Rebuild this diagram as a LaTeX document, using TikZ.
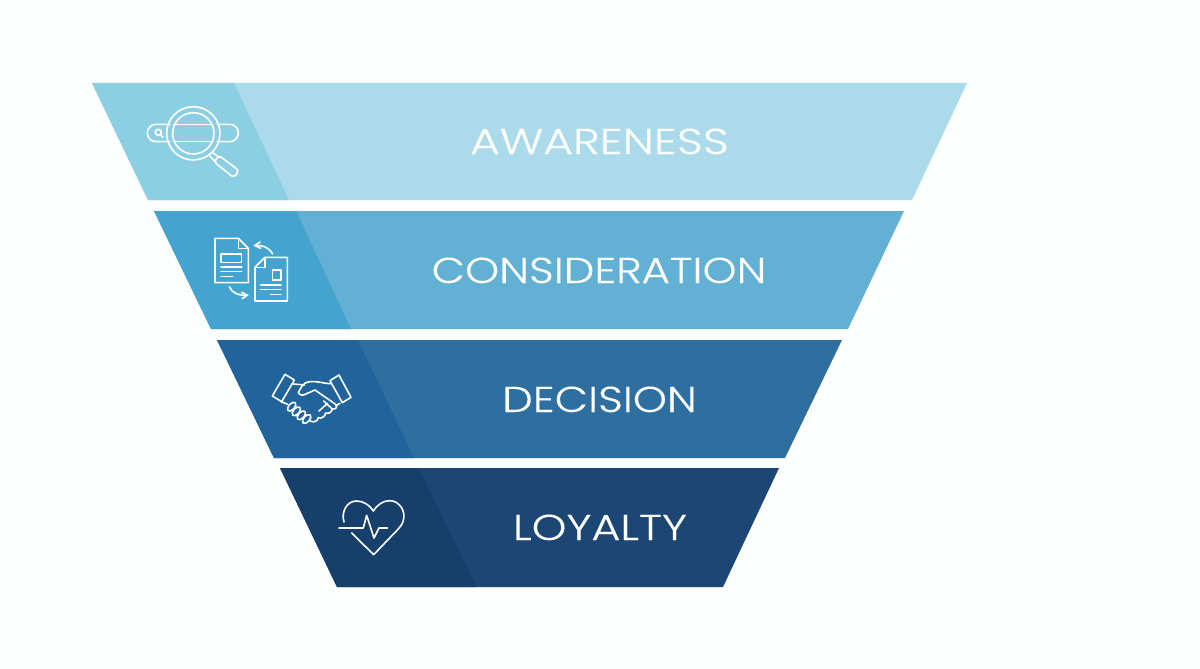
\documentclass[tikz,border=0pt]{standalone}
\usepackage{fontspec}
\setmainfont{Poppins}
\newfontfamily\bandfont[FakeStretch=1.205,FakeBold=0.25]{Poppins Light}
\newfontfamily\bandfontwide[FakeStretch=1.265,FakeBold=0.25]{Poppins Light}
\newfontfamily\bandfontmid[FakeStretch=1.23,FakeBold=0.25]{Poppins Light}
\usetikzlibrary{arrows}

\definecolor{pagebg}{HTML}{FDFEFE}
\definecolor{awareL}{HTML}{8CCFE2}
\definecolor{awareR}{HTML}{ABDBEA}
\definecolor{considerL}{HTML}{45A4CF}
\definecolor{considerR}{HTML}{62B0D3}
\definecolor{decideL}{HTML}{20649B}
\definecolor{decideR}{HTML}{2F6F9F}
\definecolor{loyalL}{HTML}{173F6C}
\definecolor{loyalR}{HTML}{1C4674}

\tikzset{
  bandlabel/.style={anchor=base, text=white, font=\bandfont\fontsize{36}{36}\selectfont, inner sep=0pt},
  iconline/.style={draw=white, line width=1.6pt, line cap=round, line join=round},
  iconarrow/.style={iconline, ->, >=angle 60},
  zoomed/.style={x=0.3333pt, y=-0.3333pt}
}

\begin{document}
\begin{tikzpicture}[x=1pt, y=-1pt]
\useasboundingbox (0,0) rectangle (1200,669);
\fill[pagebg] (0,0) rectangle (1200,669);

% bands
\fill[awareR] (92,83) -- (967,83) -- (912,200) -- (148,200) -- cycle;
\fill[awareL] (92,83) -- (234,83) -- (289,200) -- (148,200) -- cycle;
\fill[considerR] (154,211) -- (904,211) -- (848,329) -- (211,329) -- cycle;
\fill[considerL] (154,211) -- (296,211) -- (351,329) -- (211,329) -- cycle;
\fill[decideR] (217,340) -- (842,340) -- (785,458) -- (274,458) -- cycle;
\fill[decideL] (217,340) -- (358,340) -- (414,458) -- (274,458) -- cycle;
\fill[loyalR] (280,468) -- (779,468) -- (723,587) -- (337,587) -- cycle;
\fill[loyalL] (280,468) -- (419,468) -- (476,587) -- (337,587) -- cycle;

% labels
\node[bandlabel, font=\bandfontwide\fontsize{36}{36}\selectfont] (awareness) at (599.5,154) {AWARENESS};
\node[bandlabel] (consideration) at (599,283) {CONSIDERATION};
\node[bandlabel] (decision) at (599.5,412) {DECISION};
\node[bandlabel, font=\bandfontmid\fontsize{36}{36}\selectfont] (loyalty) at (600,540) {LOYALTY};

% search icon
\begin{scope}[shift={(90,80)}, zoomed]
\draw[iconline] (240,133) -- (198,133) arc (270:90:26) -- (240,185);
\draw[iconline] (381,133) -- (419,133) arc (270:450:26) -- (381,185);
\draw[iconline] (310,160) circle (80);
\draw[iconline] (310,160) circle (62);
\draw[iconline] (252,133) -- (368,133);
\draw[iconline] (252,185) -- (368,185);
\draw[iconline] (205,157) circle (9);
\draw[iconline] (212,164) -- (219,172);
\draw[iconline] (360,228) -- (375,245);
\draw[iconline] (368,218) -- (388,232);
\draw[iconline, rounded corners=3pt] (372,245) -- (388,227) -- (447,272) -- (431,293) -- cycle;
\end{scope}

% documents icon
\begin{scope}[shift={(150,205)}, zoomed]
\draw[iconline] (265,100) -- (195,100) -- (195,233) -- (295,233) -- (295,130) -- cycle;
\draw[iconline] (265,100) -- (265,130) -- (295,130);
\draw[iconline] (213,147) rectangle (275,172);
\draw[iconline] (213,186) -- (275,186);
\draw[iconline] (213,200) -- (275,200);
\draw[iconline] (213,214) -- (248,214);
\draw[iconline] (345,157) -- (412,157) -- (412,288) -- (315,288) -- (315,187) -- cycle;
\draw[iconline] (345,157) -- (345,187) -- (315,187);
\draw[iconline] (367,195) rectangle (393,225);
\draw[iconline] (332,240) -- (393,240);
\draw[iconline] (332,253) -- (393,253);
\draw[iconline] (362,268) -- (393,268);
\draw[iconarrow] (368,147) .. controls (356,125) and (335,120) .. (310,122);
\draw[iconarrow] (238,245) .. controls (245,265) and (268,272) .. (297,270);
\end{scope}

% handshake icon
\begin{scope}[shift={(215,335)}, zoomed]
\draw[iconline] (210,118) -- (238,135) -- (200,200) -- (172,183) -- cycle;
\draw[iconline] (372,120) -- (345,137) -- (382,203) -- (408,187) -- cycle;
\draw[iconline] (235,147) -- (268,150);
\draw[iconline] (349,146) .. controls (325,146) and (305,137) .. (285,140) .. controls (272,142) and (265,146) .. (260,155) -- (250,172) .. controls (254,183) and (266,182) .. (275,176) -- (300,165) -- (362,208) .. controls (370,215) and (362,224) .. (352,222);
\draw[iconline] (375,205) -- (362,212);
\draw[iconline] (352,222) .. controls (350,232) and (340,238) .. (332,234);
\draw[iconline] (332,234) .. controls (330,246) and (318,252) .. (310,248);
\draw[iconline] (310,248) .. controls (308,258) and (298,264) .. (285,258);
\draw[iconline] (338,205) -- (312,228);
\draw[iconline] (352,222) -- (326,198);
\draw[iconline] (198,200) -- (218,208);
\foreach \fx/\fy in {230/215, 244/229, 259/241, 275/252}
  \draw[iconline, rotate around={48:(\fx,\fy)}] (\fx,\fy) ellipse (16 and 9);
\end{scope}

% heart icon
\begin{scope}[shift={(275,462)}, zoomed]
\draw[iconline] (207,180) .. controls (198,150) and (215,117) .. (245,117) .. controls (265,117) and (285,130) .. (295,147) .. controls (305,130) and (325,115) .. (345,116) .. controls (375,117) and (393,150) .. (385,175) .. controls (382,188) and (375,195) .. (368,203) -- (296,278) -- (230,213);
\draw[iconline] (192,198) -- (265,198) -- (275,160) -- (297,228) -- (312,198) -- (338,198);
\end{scope}
\end{tikzpicture}
\end{document}
